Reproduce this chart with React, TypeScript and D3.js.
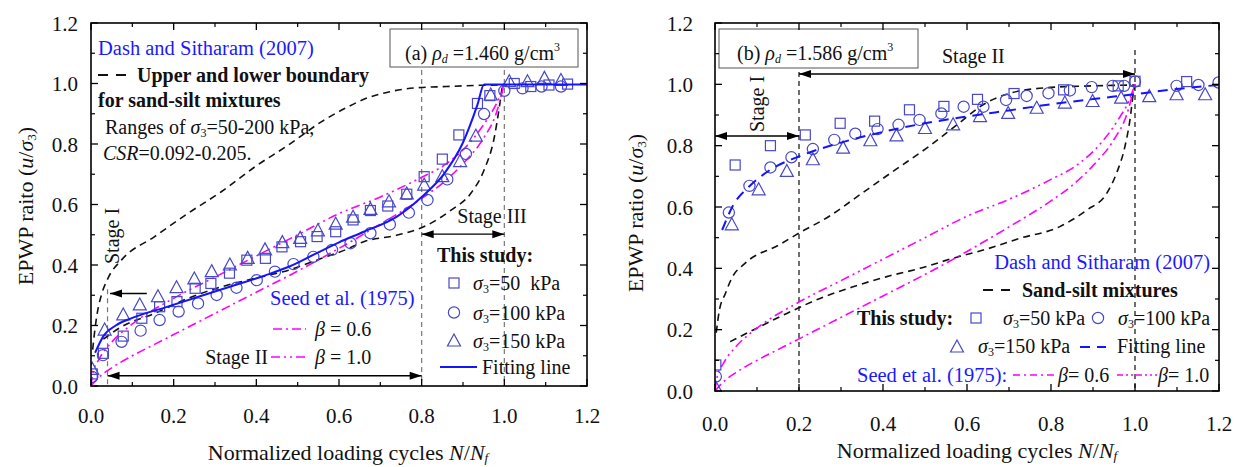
import React from "react";
import * as d3 from "d3";

// ---------------- data ----------------
const axisTicks = [0, 0.2, 0.4, 0.6, 0.8, 1.0, 1.2];
const minorTicks = [0.1, 0.3, 0.5, 0.7, 0.9, 1.1];
const tickLabels = ["0.0", "0.2", "0.4", "0.6", "0.8", "1.0", "1.2"];

// Panel (a) markers
const aSquareX = [0.003, 0.03, 0.078, 0.123, 0.166, 0.208, 0.252, 0.29, 0.335, 0.377, 0.422, 0.462, 0.507, 0.547, 0.592, 0.634, 0.676, 0.718, 0.764, 0.806, 0.85, 0.89, 0.935, 0.965, 1.024, 1.064, 1.108, 1.153];
const aSquareY = [0.04, 0.108, 0.165, 0.224, 0.262, 0.279, 0.323, 0.339, 0.373, 0.416, 0.422, 0.46, 0.477, 0.494, 0.51, 0.549, 0.58, 0.595, 0.634, 0.692, 0.75, 0.83, 0.934, 0.96, 1.0, 0.99, 0.995, 0.998];
const aCircleX = [0.003, 0.029, 0.074, 0.12, 0.166, 0.212, 0.259, 0.304, 0.352, 0.401, 0.445, 0.49, 0.538, 0.583, 0.628, 0.676, 0.723, 0.769, 0.814, 0.862, 0.907, 0.951, 1.0, 1.044, 1.09, 1.137];
const aCircleY = [0.03, 0.102, 0.146, 0.183, 0.218, 0.246, 0.273, 0.301, 0.325, 0.35, 0.378, 0.403, 0.427, 0.45, 0.472, 0.505, 0.534, 0.573, 0.615, 0.683, 0.767, 0.899, 0.976, 0.984, 0.99, 0.99];
const aTriangleX = [0.003, 0.033, 0.078, 0.118, 0.162, 0.207, 0.25, 0.292, 0.336, 0.379, 0.421, 0.463, 0.506, 0.549, 0.592, 0.634, 0.676, 0.721, 0.764, 0.806, 0.85, 0.893, 0.931, 0.967, 1.012, 1.056, 1.097, 1.137];
const aTriangleY = [0.055, 0.185, 0.235, 0.268, 0.295, 0.325, 0.354, 0.378, 0.4, 0.422, 0.45, 0.474, 0.488, 0.513, 0.535, 0.558, 0.584, 0.609, 0.635, 0.664, 0.692, 0.742, 0.826, 0.962, 1.006, 1.006, 1.017, 1.01];

// Panel (a) curves
const aFitX = [0.01, 0.03, 0.06, 0.1, 0.18, 0.26, 0.34, 0.42, 0.48, 0.54, 0.6, 0.66, 0.74, 0.8, 0.855, 0.9, 0.935, 0.951, 0.97, 1.2];
const aFitY = [0.11, 0.165, 0.2, 0.225, 0.26, 0.295, 0.33, 0.365, 0.395, 0.435, 0.475, 0.51, 0.56, 0.625, 0.703, 0.805, 0.93, 0.997, 0.997, 0.997];
const aUpperX = [0.004, 0.008, 0.015, 0.025, 0.041, 0.074, 0.154, 0.235, 0.316, 0.397, 0.478, 0.558, 0.615, 0.668, 0.72, 0.78, 0.86, 0.94, 0.995];
const aUpperY = [0.12, 0.17, 0.24, 0.3, 0.356, 0.417, 0.494, 0.571, 0.643, 0.725, 0.797, 0.874, 0.918, 0.952, 0.972, 0.985, 0.99, 0.994, 0.995];
const aLowerX = [0.03, 0.074, 0.154, 0.235, 0.316, 0.397, 0.478, 0.558, 0.615, 0.66, 0.741, 0.806, 0.872, 0.919, 0.951, 0.976, 0.988, 0.995];
const aLowerY = [0.155, 0.196, 0.24, 0.29, 0.328, 0.356, 0.383, 0.422, 0.45, 0.477, 0.499, 0.527, 0.582, 0.637, 0.714, 0.824, 0.923, 0.99];

// Seed et al. (1975) curves (both panels)
const seed10X = [0, 0.005, 0.02, 0.05, 0.1, 0.2, 0.3, 0.4, 0.5, 0.6, 0.7, 0.8, 0.86, 0.92, 0.96, 0.985, 1.0];
const seed10Y = [0, 0.045, 0.09, 0.145, 0.205, 0.29, 0.36, 0.43, 0.5, 0.57, 0.625, 0.69, 0.735, 0.81, 0.885, 0.945, 1.0];
const seed06X = [0, 0.02, 0.05, 0.1, 0.15, 0.2, 0.3, 0.4, 0.5, 0.6, 0.7, 0.8, 0.85, 0.9, 0.95, 0.98, 1.0];
const seed06Y = [0, 0.03, 0.06, 0.1, 0.135, 0.17, 0.24, 0.31, 0.38, 0.455, 0.535, 0.62, 0.67, 0.735, 0.82, 0.9, 1.0];

// Panel (b) markers
const bSquareX = [0.002, 0.048, 0.132, 0.215, 0.298, 0.38, 0.463, 0.545, 0.625, 0.712, 0.83, 0.96, 1.0, 1.123];
const bSquareY = [0.085, 0.737, 0.8, 0.835, 0.873, 0.88, 0.917, 0.928, 0.951, 0.97, 0.982, 0.995, 1.01, 1.009];
const bCircleX = [0.002, 0.033, 0.082, 0.132, 0.182, 0.233, 0.284, 0.334, 0.387, 0.437, 0.487, 0.539, 0.592, 0.639, 0.693, 0.742, 0.794, 0.845, 0.897, 0.947, 0.974, 1.0, 1.099, 1.151, 1.199];
const bCircleY = [0.047, 0.582, 0.669, 0.729, 0.762, 0.789, 0.819, 0.839, 0.854, 0.868, 0.884, 0.905, 0.927, 0.927, 0.949, 0.962, 0.971, 0.98, 0.991, 0.995, 0.995, 1.009, 0.995, 0.998, 1.006];
const bTriangleX = [0.002, 0.04, 0.104, 0.171, 0.233, 0.305, 0.37, 0.432, 0.5, 0.567, 0.631, 0.698, 0.766, 0.833, 0.899, 0.967, 1.034, 1.099, 1.167];
const bTriangleY = [0.01, 0.542, 0.656, 0.716, 0.754, 0.792, 0.816, 0.832, 0.856, 0.868, 0.895, 0.905, 0.922, 0.939, 0.944, 0.955, 0.96, 0.966, 0.966];

// Panel (b) curves
const bFitX = [0.017, 0.045, 0.08, 0.13, 0.2, 0.3, 0.4, 0.5, 0.6, 0.7, 0.8, 0.9, 1.0, 1.1, 1.2];
const bFitY = [0.525, 0.61, 0.665, 0.72, 0.765, 0.81, 0.845, 0.873, 0.895, 0.915, 0.935, 0.952, 0.968, 0.985, 0.998];
const bUpperX = [0.003, 0.01, 0.025, 0.04, 0.072, 0.152, 0.2, 0.271, 0.35, 0.429, 0.509, 0.578, 0.64, 0.7, 0.8, 0.9, 1.0];
const bUpperY = [0.19, 0.26, 0.319, 0.368, 0.417, 0.476, 0.515, 0.569, 0.645, 0.721, 0.797, 0.87, 0.935, 0.97, 0.99, 0.995, 0.998];
const bLowerX = [0.036, 0.091, 0.171, 0.25, 0.329, 0.409, 0.488, 0.567, 0.647, 0.726, 0.821, 0.885, 0.933, 0.956, 0.976, 0.988, 0.996, 1.0];
const bLowerY = [0.161, 0.199, 0.253, 0.302, 0.34, 0.373, 0.4, 0.433, 0.463, 0.498, 0.536, 0.59, 0.645, 0.71, 0.797, 0.884, 0.971, 1.0];

// ---------------- style ----------------
const FONT = "'Liberation Serif','Times New Roman',serif";
const MK = "#4848c8";
const FIT = "#1414ff";
const TBLUE = "#1a1aff";
const MAG = "#ff00ff";
const DASH_BLACK = "7,5";
const DASH_DOT = "9,4,2,4";
const DASH_DOT_DOT = "9,4,2,4,2,4";

type Sc = d3.ScaleLinear<number, number>;
const zip = (xs: number[], ys: number[]) => xs.map((x, i) => [x, ys[i]] as [number, number]);

function linePath(xs: Sc, ys: Sc, px: number[], py: number[]) {
  const g = d3
    .line<[number, number]>()
    .x((d) => xs(d[0]))
    .y((d) => ys(d[1]))
    .curve(d3.curveMonotoneX);
  return g(zip(px, py)) || "";
}

const Square = ({ x, y }: { x: number; y: number }) => (
  <rect x={x - 5} y={y - 5} width={10} height={10} fill="none" stroke={MK} strokeWidth={1.2} />
);
const Circ = ({ x, y }: { x: number; y: number }) => (
  <circle cx={x} cy={y} r={5.6} fill="none" stroke={MK} strokeWidth={1.2} />
);
const Tri = ({ x, y }: { x: number; y: number }) => (
  <path d={`M${x},${y - 7} L${x + 6.5},${y + 5} L${x - 6.5},${y + 5} Z`} fill="none" stroke={MK} strokeWidth={1.2} />
);

function Arrow({ x1, x2, y, start, end }: { x1: number; x2: number; y: number; start?: boolean; end?: boolean }) {
  const L = 12, W = 4;
  return (
    <g>
      <line x1={x1} x2={x2} y1={y} y2={y} stroke="#000" strokeWidth={1.4} />
      {start && <path d={`M${x1},${y} L${x1 + L},${y - W} L${x1 + L},${y + W} Z`} fill="#000" />}
      {end && <path d={`M${x2},${y} L${x2 - L},${y - W} L${x2 - L},${y + W} Z`} fill="#000" />}
    </g>
  );
}

function Axes({ xs, ys, yLabelRight, xLabelBase }: { xs: Sc; ys: Sc; yLabelRight: number; xLabelBase: number }) {
  const [x0, x1] = xs.range();
  const [y0, y1] = ys.range();
  const M = 7, m = 4;
  return (
    <g>
      {axisTicks.map((v) => (
        <g key={"M" + v}>
          <line x1={xs(v)} x2={xs(v)} y1={y0} y2={y0 - M} stroke="#000" strokeWidth={1.3} />
          <line x1={xs(v)} x2={xs(v)} y1={y1} y2={y1 + M} stroke="#000" strokeWidth={1.3} />
          <line x1={x0} x2={x0 + M} y1={ys(v)} y2={ys(v)} stroke="#000" strokeWidth={1.3} />
          <line x1={x1} x2={x1 - M} y1={ys(v)} y2={ys(v)} stroke="#000" strokeWidth={1.3} />
        </g>
      ))}
      {minorTicks.map((v) => (
        <g key={"m" + v}>
          <line x1={xs(v)} x2={xs(v)} y1={y0} y2={y0 - m} stroke="#000" strokeWidth={1.2} />
          <line x1={xs(v)} x2={xs(v)} y1={y1} y2={y1 + m} stroke="#000" strokeWidth={1.2} />
          <line x1={x0} x2={x0 + m} y1={ys(v)} y2={ys(v)} stroke="#000" strokeWidth={1.2} />
          <line x1={x1} x2={x1 - m} y1={ys(v)} y2={ys(v)} stroke="#000" strokeWidth={1.2} />
        </g>
      ))}
      <rect x={x0} y={y1} width={x1 - x0} height={y0 - y1} fill="none" stroke="#000" strokeWidth={1.6} />
      {axisTicks.map((v, i) => (
        <text key={"xl" + v} x={xs(v)} y={xLabelBase} textAnchor="middle" fontSize={21} fill="#111">
          {tickLabels[i]}
        </text>
      ))}
      {axisTicks.map((v, i) => (
        <text key={"yl" + v} x={yLabelRight} y={ys(v) + 7.5} textAnchor="end" fontSize={21} fill="#111">
          {tickLabels[i]}
        </text>
      ))}
    </g>
  );
}

const Sig3 = ({ after }: { after: string }) => (
  <>
    <tspan fontStyle="italic">σ</tspan>
    <tspan fontSize="0.6em" dy={3}>3</tspan>
    <tspan dy={-3}>{after}</tspan>
  </>
);

export default function App() {
  const xa = d3.scaleLinear().domain([0, 1.2]).range([91, 587]);
  const ya = d3.scaleLinear().domain([0, 1.2]).range([386, 23]);
  const xb = d3.scaleLinear().domain([0, 1.2]).range([715, 1219]);
  const yb = d3.scaleLinear().domain([0, 1.2]).range([391, 23]);

  return (
    <svg
      width={1242}
      height={467}
      style={{ position: "absolute", left: 0, top: 0, background: "#fff" }}
      fontFamily={FONT}
    >
      <defs>
        <clipPath id="clipA">
          <rect x={91} y={23} width={496} height={363} />
        </clipPath>
        <clipPath id="clipB">
          <rect x={715} y={23} width={504} height={368} />
        </clipPath>
      </defs>

      {/* ============ Panel (a) ============ */}
      <g>
        <line x1={xa(0.04)} x2={xa(0.04)} y1={ya(0.32)} y2={ya(0)} stroke="#777" strokeWidth={1.2} strokeDasharray="5,4" />
        <line x1={xa(0.8)} x2={xa(0.8)} y1={70} y2={ya(0)} stroke="#777" strokeWidth={1.2} strokeDasharray="5,4" />
        <line x1={xa(1.0)} x2={xa(1.0)} y1={70} y2={ya(0)} stroke="#777" strokeWidth={1.2} strokeDasharray="5,4" />

        <g clipPath="url(#clipA)" fill="none">
          <path d={linePath(xa, ya, aUpperX, aUpperY)} stroke="#111" strokeWidth={1.6} strokeDasharray={DASH_BLACK} />
          <path d={linePath(xa, ya, aLowerX, aLowerY)} stroke="#111" strokeWidth={1.6} strokeDasharray={DASH_BLACK} />
          <path d={linePath(xa, ya, seed06X, seed06Y)} stroke={MAG} strokeWidth={1.6} strokeDasharray={DASH_DOT} />
          <path d={linePath(xa, ya, seed10X, seed10Y)} stroke={MAG} strokeWidth={1.6} strokeDasharray={DASH_DOT_DOT} />
          {zip(aSquareX, aSquareY).map((d, i) => <Square key={"as" + i} x={xa(d[0])} y={ya(d[1])} />)}
          {zip(aCircleX, aCircleY).map((d, i) => <Circ key={"ac" + i} x={xa(d[0])} y={ya(d[1])} />)}
          {zip(aTriangleX, aTriangleY).map((d, i) => <Tri key={"at" + i} x={xa(d[0])} y={ya(d[1])} />)}
          <path d={linePath(xa, ya, aFitX, aFitY)} stroke={FIT} strokeWidth={2} />
        </g>

        <Arrow x1={xa(0.046)} x2={xa(0.135)} y={ya(0.306)} start />
        <Arrow x1={xa(0.04)} x2={xa(0.8)} y={ya(0.034)} start end />
        <Arrow x1={xa(0.8)} x2={xa(1.0)} y={ya(0.502)} start end />
        <text transform="translate(119,236) rotate(-90)" textAnchor="middle" fontSize={20} fill="#111">Stage I</text>
        <text x={268} y={364} textAnchor="end" fontSize={20} fill="#111">Stage II</text>
        <text x={492} y={223} textAnchor="middle" fontSize={20} fill="#111">Stage III</text>

        <text x={98} y={55} fontSize={20.5} fill={TBLUE}>Dash and Sitharam (2007)</text>
        <line x1={98} x2={126} y1={75} y2={75} stroke="#111" strokeWidth={2} strokeDasharray="10,8" />
        <text x={137} y={82} fontSize={20} fontWeight="bold" fill="#111">Upper and lower boundary</text>
        <text x={98} y={107} fontSize={20} fontWeight="bold" fill="#111">for sand-silt mixtures</text>
        <text x={105} y={134} fontSize={20} fill="#111">
          Ranges of <Sig3 after="=50-200 kPa," />
        </text>
        <text x={103} y={160} fontSize={20} fill="#111">
          <tspan fontStyle="italic">CSR</tspan>=0.092-0.205.
        </text>

        <rect x={390} y={29} width={188} height={38} fill="#fff" stroke="#555" strokeWidth={1} />
        <text x={405} y={60} fontSize={20} fill="#111">
          (a) <tspan fontStyle="italic">ρ</tspan>
          <tspan fontSize="0.6em" fontStyle="italic" dy={3}>d</tspan>
          <tspan dy={-3}> =1.460 g/cm</tspan>
          <tspan fontSize="0.6em" dy={-9}>3</tspan>
        </text>

        <text x={270} y={305} fontSize={20.5} fill={TBLUE}>Seed et al. (1975)</text>
        <line x1={273} x2={306} y1={329} y2={329} stroke={MAG} strokeWidth={1.6} strokeDasharray={DASH_DOT} />
        <text x={315} y={336} fontSize={20} fill="#111">
          <tspan fontStyle="italic">β</tspan> = 0.6
        </text>
        <line x1={271} x2={306} y1={357} y2={357} stroke={MAG} strokeWidth={1.6} strokeDasharray={DASH_DOT_DOT} />
        <text x={315} y={364} fontSize={20} fill="#111">
          <tspan fontStyle="italic">β</tspan> = 1.0
        </text>

        <text x={437} y={262} fontSize={20} fontWeight="bold" fill="#111">This study:</text>
        <Square x={454} y={283} />
        <text x={473} y={290} fontSize={20} fill="#111"><Sig3 after={"=50\u00a0 kPa"} /></text>
        <Circ x={454} y={312.5} />
        <text x={473} y={320} fontSize={20} fill="#111"><Sig3 after="=100 kPa" /></text>
        <Tri x={454} y={341} />
        <text x={473} y={348} fontSize={20} fill="#111"><Sig3 after="=150 kPa" /></text>
        <line x1={440} x2={477} y1={367} y2={367} stroke={FIT} strokeWidth={2} />
        <text x={482} y={374} fontSize={20} fill="#111">Fitting line</text>

        <Axes xs={xa} ys={ya} yLabelRight={78} xLabelBase={423} />
        <text transform="translate(33,206) rotate(-90)" textAnchor="middle" fontSize={22} fill="#111">
          EPWP raito (<tspan fontStyle="italic">u</tspan>/<tspan fontStyle="italic">σ</tspan>
          <tspan fontSize="0.6em" dy={3}>3</tspan>
          <tspan dy={-3}>)</tspan>
        </text>
        <text x={348} y={460} textAnchor="middle" fontSize={22} fill="#111">
          Normalized loading cycles <tspan fontStyle="italic">N</tspan>/<tspan fontStyle="italic">N</tspan>
          <tspan fontStyle="italic" fontSize="0.6em" dy={2}>f</tspan>
        </text>
      </g>

      {/* ============ Panel (b) ============ */}
      <g>
        <line x1={xb(0.2)} x2={xb(0.2)} y1={72} y2={yb(0)} stroke="#222" strokeWidth={1.3} strokeDasharray="5,4" />
        <line x1={xb(1.0)} x2={xb(1.0)} y1={50} y2={yb(0)} stroke="#222" strokeWidth={1.3} strokeDasharray="5,4" />

        <g clipPath="url(#clipB)" fill="none">
          <path d={linePath(xb, yb, bUpperX, bUpperY)} stroke="#111" strokeWidth={1.6} strokeDasharray={DASH_BLACK} />
          <path d={linePath(xb, yb, bLowerX, bLowerY)} stroke="#111" strokeWidth={1.6} strokeDasharray={DASH_BLACK} />
          <path d={linePath(xb, yb, seed06X, seed06Y)} stroke={MAG} strokeWidth={1.6} strokeDasharray={DASH_DOT} />
          <path d={linePath(xb, yb, seed10X, seed10Y)} stroke={MAG} strokeWidth={1.6} strokeDasharray={DASH_DOT_DOT} />
          {zip(bSquareX, bSquareY).map((d, i) => <Square key={"bs" + i} x={xb(d[0])} y={yb(d[1])} />)}
          {zip(bCircleX, bCircleY).map((d, i) => <Circ key={"bc" + i} x={xb(d[0])} y={yb(d[1])} />)}
          {zip(bTriangleX, bTriangleY).map((d, i) => <Tri key={"bt" + i} x={xb(d[0])} y={yb(d[1])} />)}
          <path d={linePath(xb, yb, bFitX, bFitY)} stroke={FIT} strokeWidth={2} strokeDasharray="10,7" />
        </g>

        <Arrow x1={xb(0)} x2={xb(0.2)} y={136} start end />
        <Arrow x1={xb(0.2)} x2={xb(1.0)} y={74} start end />
        <text transform="translate(764,104) rotate(-90)" textAnchor="middle" fontSize={20} fill="#111">Stage I</text>
        <text x={942} y={63} fontSize={20} fill="#111">Stage II</text>

        <rect x={719} y={29} width={199} height={39} fill="#fff" stroke="#555" strokeWidth={1} />
        <text x={737} y={60} fontSize={20} fill="#111">
          (b) <tspan fontStyle="italic">ρ</tspan>
          <tspan fontSize="0.6em" fontStyle="italic" dy={3}>d</tspan>
          <tspan dy={-3}> =1.586 g/cm</tspan>
          <tspan fontSize="0.6em" dy={-9}>3</tspan>
        </text>

        <text x={1210} y={269} textAnchor="end" fontSize={20.5} fill={TBLUE}>Dash and Sitharam (2007)</text>
        <line x1={983} x2={1010} y1={290} y2={290} stroke="#111" strokeWidth={2} strokeDasharray="10,8" />
        <text x={1022} y={297} fontSize={20} fontWeight="bold" fill="#111">Sand-silt mixtures</text>

        <text x={857} y={325} fontSize={20} fontWeight="bold" fill="#111">This study:</text>
        <Square x={976} y={318} />
        <text x={1003} y={325} fontSize={20} fill="#111"><Sig3 after="=50 kPa" /></text>
        <Circ x={1098} y={318} />
        <text x={1118} y={325} fontSize={20} fill="#111"><Sig3 after="=100 kPa" /></text>
        <Tri x={957} y={347} />
        <text x={978} y={353} fontSize={20} fill="#111"><Sig3 after="=150 kPa" /></text>
        <line x1={1080} x2={1106} y1={347} y2={347} stroke={FIT} strokeWidth={2} strokeDasharray="10,7" />
        <text x={1117} y={353} fontSize={20} fill="#111">Fitting line</text>

        <text x={857} y={382} fontSize={20.5} fill={TBLUE}>Seed et al. (1975):</text>
        <line x1={1013} x2={1057} y1={375} y2={375} stroke={MAG} strokeWidth={1.6} strokeDasharray="7,4,2,4" />
        <text x={1058} y={382} fontSize={20} fill="#111">
          <tspan fontStyle="italic">β</tspan>= 0.6
        </text>
        <line x1={1117} x2={1157} y1={375} y2={375} stroke={MAG} strokeWidth={1.6} strokeDasharray="6,3,2,3,2,3" />
        <text x={1158} y={382} fontSize={20} fill="#111">
          <tspan fontStyle="italic">β</tspan>= 1.0
        </text>

        <Axes xs={xb} ys={yb} yLabelRight={693} xLabelBase={431} />
        <text transform="translate(643,213) rotate(-90)" textAnchor="middle" fontSize={22} fill="#111">
          EPWP ratio (<tspan fontStyle="italic">u</tspan>/<tspan fontStyle="italic">σ</tspan>
          <tspan fontSize="0.6em" dy={3}>3</tspan>
          <tspan dy={-3}>)</tspan>
        </text>
        <text x={977} y={458} textAnchor="middle" fontSize={22} fill="#111">
          Normalized loading cycles <tspan fontStyle="italic">N</tspan>/<tspan fontStyle="italic">N</tspan>
          <tspan fontStyle="italic" fontSize="0.6em" dy={2}>f</tspan>
        </text>
      </g>
    </svg>
  );
}
